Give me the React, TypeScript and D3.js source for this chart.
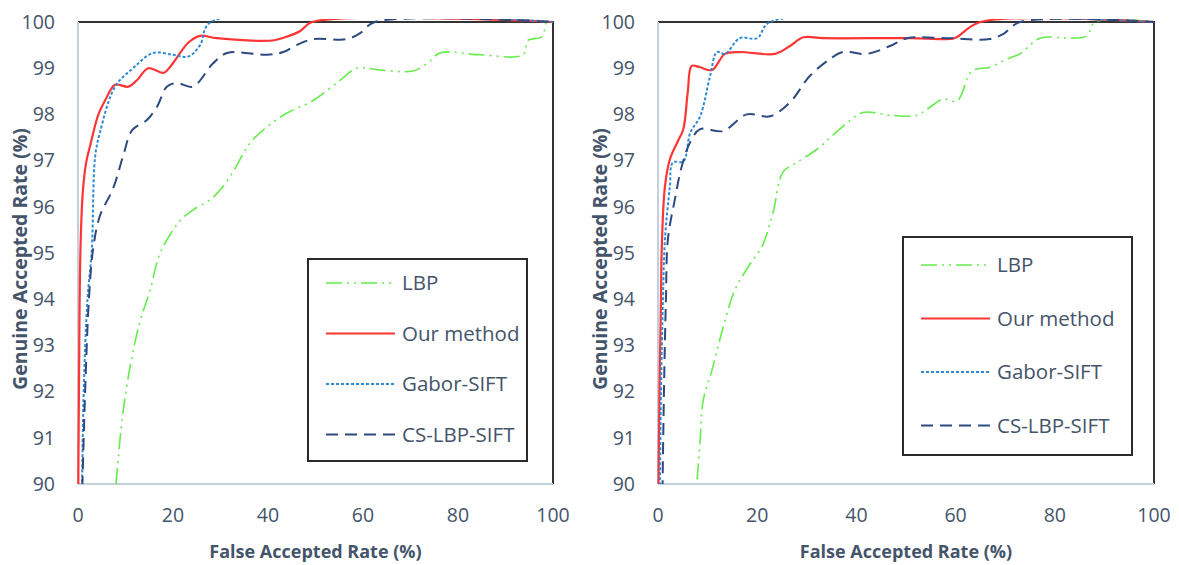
import React, { useEffect, useRef } from "react";
import * as d3 from "d3";

// x = False Accepted Rate (%), y = Genuine Accepted Rate (%)
const xTicks = [0, 20, 40, 60, 80, 100];
const yTicks = [90, 91, 92, 93, 94, 95, 96, 97, 98, 99, 100];

const seriesNames = ["LBP", "Our method", "Gabor-SIFT", "CS-LBP-SIFT"];

// left chart
const lbpA = [
  [8, 90], [9.3, 91.4], [10.9, 92.5], [13, 93.5], [15.2, 94.2], [17.3, 95.0],
  [21.5, 95.7], [24.2, 95.93], [28.4, 96.2], [32, 96.65], [36.2, 97.38],
  [39.8, 97.73], [44, 98.03], [49.5, 98.3], [55.2, 98.74], [58.7, 99.0],
  [63.6, 98.96], [70.5, 98.94], [73.5, 99.1], [76.2, 99.33], [84.6, 99.29],
  [93.7, 99.29], [94.7, 99.6], [97.7, 99.68], [98.7, 100], [100, 100],
];
const oursA = [
  [0, 89], [0.2, 92], [0.5, 95], [1, 96.3], [1.7, 96.95], [2.5, 97.3],
  [4.3, 98.0], [5.7, 98.3], [7.8, 98.64], [10.6, 98.6], [12.4, 98.74],
  [14.8, 99.0], [18, 98.9], [19.7, 99.07], [23.2, 99.55], [25.7, 99.7],
  [29.2, 99.65], [41, 99.6], [43.6, 99.67], [46.7, 99.8], [49.3, 100], [100, 100],
];
const gaborA = [
  [0.8, 89.5], [1.2, 92], [2, 94], [2.9, 95.06], [3.6, 97.08], [4.6, 97.6],
  [7.8, 98.6], [11.6, 99.0], [15.8, 99.33], [20, 99.29], [23.2, 99.25],
  [25.7, 99.5], [28, 100], [100, 100],
];
const csA = [
  [0.8, 89.5], [1.5, 92], [2.3, 94], [3.2, 95.1], [4.6, 95.8], [7.4, 96.4],
  [9.5, 97.1], [11.4, 97.66], [14.5, 97.88], [16.6, 98.16], [18.7, 98.6],
  [20.8, 98.68], [24.2, 98.6], [28.4, 99.1], [31.4, 99.33], [39.8, 99.29],
  [43.2, 99.35], [46, 99.5], [49.5, 99.63], [56.6, 99.63], [59.4, 99.76],
  [62.5, 100], [100, 100],
];

// right chart
const lbpB = [
  [7.9, 90.1], [8.5, 90.95], [9.1, 91.8], [10.9, 92.47], [12.9, 93.3],
  [15.5, 94.2], [18.5, 94.75], [21, 95.15], [23.2, 95.88], [25.2, 96.75],
  [28, 96.96], [32, 97.24], [37.3, 97.74], [41.3, 98.04], [46.8, 97.98],
  [52.2, 97.98], [54.2, 98.11], [57.5, 98.33], [60.3, 98.29], [63.3, 98.94],
  [66.9, 99.02], [70.4, 99.2], [73, 99.31], [77, 99.65], [83.1, 99.65],
  [86.5, 99.7], [88.1, 100], [100, 100],
];
const oursB = [
  [0, 89], [0.3, 92], [0.6, 94], [0.75, 95.08], [1.4, 96.44], [2.4, 97.03],
  [4, 97.42], [5.1, 97.68], [6, 98.48], [6.8, 99.05], [8.5, 99.02],
  [10.9, 98.96], [13.5, 99.31], [16.5, 99.35], [23.6, 99.31], [26.6, 99.48],
  [29.3, 99.67], [33.3, 99.65], [50.8, 99.65], [58.3, 99.63], [60, 99.66],
  [65, 100], [100, 100],
];
const gaborB = [
  [0.3, 89], [0.6, 92], [1, 94], [1.4, 95.3], [2.4, 96.44], [3, 96.96],
  [5.1, 96.98], [6.5, 97.6], [8.5, 97.96], [10.5, 98.83], [11.9, 99.35],
  [13.5, 99.31], [16.5, 99.65], [20, 99.65], [22.6, 100], [100, 100],
];
const csB = [
  [0.8, 89], [1.2, 92], [1.6, 94], [2, 95.3], [3.4, 96.16], [4.8, 96.88],
  [6.5, 97.4], [8.5, 97.68], [13.1, 97.64], [17.9, 98.0], [22.6, 97.96],
  [26.6, 98.26], [30.6, 98.83], [34.7, 99.2], [37.3, 99.35], [42.1, 99.31],
  [46.8, 99.48], [50.2, 99.65], [58.3, 99.65], [66.9, 99.63], [69.6, 99.74],
  [73, 100], [100, 100],
];

const styles = [
  { color: "#66ec4c", width: 1.6, dash: "16,5,2,5,2,5" },
  { color: "#ff3535", width: 2.2, dash: null },
  { color: "#2f8ad6", width: 2, dash: "3,2" },
  { color: "#2c4a80", width: 2, dash: "12,7" },
];

const textColor = "#44546a";
const font = "'Open Sans', sans-serif";

const Chart = ({ data, left, right, legend }) => {
  const ref = useRef();

  useEffect(() => {
    drawChart();
  }, []);

  const drawChart = () => {
    const top = 22;
    const bottom = 484;
    const g = d3.select(ref.current);
    g.html("");

    const x = d3.scaleLinear().domain([0, 100]).range([left, right]);
    const y = d3.scaleLinear().domain([90, 100]).range([bottom, top]);

    // frame: top/right dark, left/bottom light axis lines
    g.append("line")
      .attr("x1", left).attr("x2", right).attr("y1", top).attr("y2", top)
      .attr("stroke", "#333").attr("stroke-width", 2);
    g.append("line")
      .attr("x1", right).attr("x2", right).attr("y1", top - 1).attr("y2", bottom)
      .attr("stroke", "#333").attr("stroke-width", 2);
    g.append("line")
      .attr("x1", left).attr("x2", right).attr("y1", bottom).attr("y2", bottom)
      .attr("stroke", "#c4cfde").attr("stroke-width", 2);
    g.append("line")
      .attr("x1", left).attr("x2", left).attr("y1", top).attr("y2", bottom)
      .attr("stroke", "#c4cfde").attr("stroke-width", 2);

    g.selectAll(".xt")
      .data(xTicks)
      .enter()
      .append("text")
      .attr("x", (d) => x(d))
      .attr("y", 522)
      .attr("text-anchor", "middle")
      .attr("font-family", font)
      .attr("font-size", 19.5)
      .attr("fill", textColor)
      .text((d) => d);

    g.selectAll(".yt")
      .data(yTicks)
      .enter()
      .append("text")
      .attr("x", left - 23)
      .attr("y", (d) => y(d))
      .attr("dy", "0.35em")
      .attr("text-anchor", "end")
      .attr("font-family", font)
      .attr("font-size", 19.5)
      .attr("fill", textColor)
      .text((d) => d);

    g.append("text")
      .attr("x", (left + right) / 2)
      .attr("y", 558)
      .attr("text-anchor", "middle")
      .attr("font-family", font)
      .attr("font-weight", "bold")
      .attr("font-size", 18)
      .attr("fill", textColor)
      .text("False Accepted Rate (%)");

    g.append("text")
      .attr("transform", `translate(${left - 58},${(top + bottom) / 2 + 6}) rotate(-90)`)
      .attr("dy", "0.35em")
      .attr("text-anchor", "middle")
      .attr("font-family", font)
      .attr("font-weight", "bold")
      .attr("font-size", 19.5)
      .attr("fill", textColor)
      .text("Genuine Accepted Rate (%)");

    const clipId = `clip-${left}`;
    g.append("clipPath")
      .attr("id", clipId)
      .append("rect")
      .attr("x", left - 3)
      .attr("y", top - 3)
      .attr("width", right - left + 3)
      .attr("height", bottom - top + 3);

    const line = d3
      .line()
      .curve(d3.curveCatmullRom.alpha(0.5))
      .x((d) => x(d[0]))
      .y((d) => y(d[1]));

    const lines = g.append("g").attr("clip-path", `url(#${clipId})`);
    data.forEach((s, i) => {
      lines
        .append("path")
        .datum(s)
        .attr("fill", "none")
        .attr("stroke", styles[i].color)
        .attr("stroke-width", styles[i].width)
        .attr("stroke-dasharray", styles[i].dash)
        .attr("d", line);
    });

    // legend
    const lg = g.append("g");
    lg.append("rect")
      .attr("x", legend.x)
      .attr("y", legend.y)
      .attr("width", legend.w)
      .attr("height", legend.h)
      .attr("fill", "#fff")
      .attr("stroke", "#2a2a2a")
      .attr("stroke-width", 2);
    seriesNames.forEach((name, i) => {
      const ly = legend.y + legend.first + i * legend.step;
      lg.append("line")
        .attr("x1", legend.x + 18)
        .attr("x2", legend.x + 87)
        .attr("y1", ly)
        .attr("y2", ly)
        .attr("stroke", styles[i].color)
        .attr("stroke-width", styles[i].width)
        .attr("stroke-dasharray", styles[i].dash);
      lg.append("text")
        .attr("x", legend.x + 94)
        .attr("y", ly)
        .attr("dy", "0.35em")
        .attr("font-family", font)
        .attr("font-size", 20.5)
        .attr("fill", textColor)
        .text(name);
    });
  };

  return <g ref={ref}></g>;
};

const App = () => {
  return (
    <svg
      width={1179}
      height={565}
      style={{ position: "absolute", left: 0, top: 0, background: "#fff" }}
    >
      <Chart
        data={[lbpA, oursA, gaborA, csA]}
        left={78}
        right={553}
        legend={{ x: 308, y: 259, w: 219, h: 202, first: 24, step: 50.5 }}
      />
      <Chart
        data={[lbpB, oursB, gaborB, csB]}
        left={658}
        right={1154}
        legend={{ x: 903, y: 237, w: 229, h: 218, first: 28, step: 53.5 }}
      />
    </svg>
  );
};

export default App;
